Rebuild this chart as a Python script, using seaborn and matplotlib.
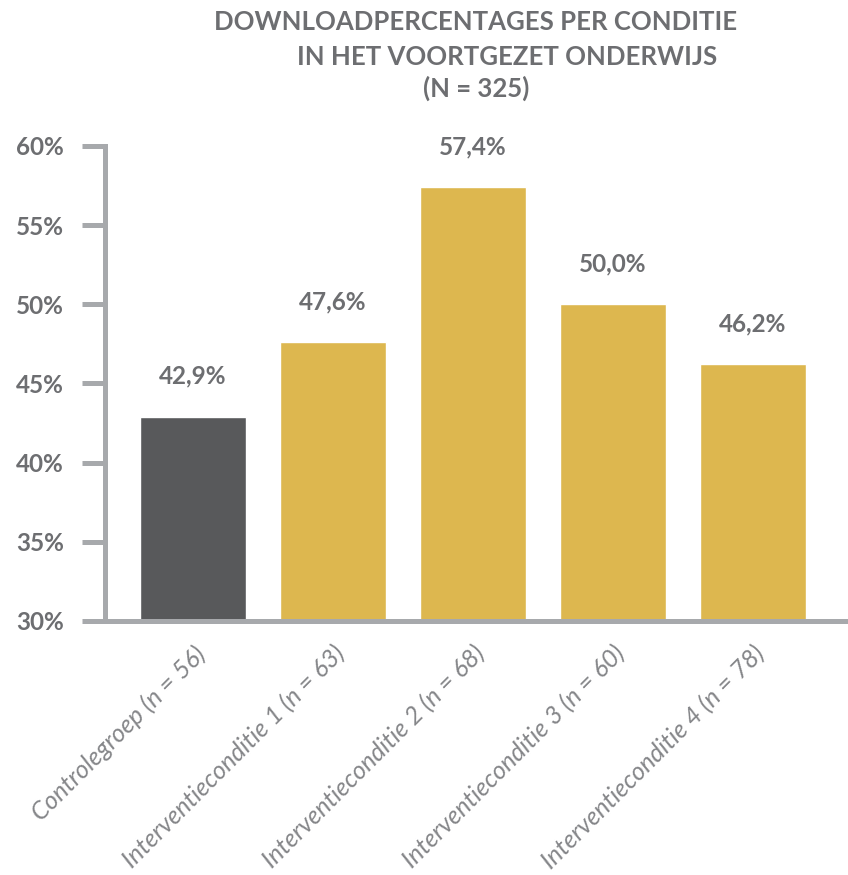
import matplotlib
matplotlib.use("Agg")
import matplotlib.pyplot as plt
import seaborn as sns
import pandas as pd

# data
conditions = [
    "Controlegroep (n = 56)",
    "Interventieconditie 1 (n = 63)",
    "Interventieconditie 2 (n = 68)",
    "Interventieconditie 3 (n = 60)",
    "Interventieconditie 4 (n = 78)",
]
percentages = [42.9, 47.6, 57.4, 50.0, 46.2]
yticks = [30, 35, 40, 45, 50, 55, 60]
title_lines = [
    "DOWNLOADPERCENTAGES PER CONDITIE",
    "IN HET VOORTGEZET ONDERWIJS",
    "(N = 325)",
]

dark = "#58595B"
gold = "#DDB74F"
text_grey = "#6D6E71"
axis_grey = "#A7A9AC"

sns.set_style("white")
plt.rcParams["font.family"] = ["Lato", "DejaVu Sans"]

df = pd.DataFrame({"Conditie": conditions, "Percentage": percentages})

fig = plt.figure(figsize=(8.48, 8.75), dpi=100)
ax = fig.add_axes([0.1238, 0.2903, 0.8762, 0.5429])

colors = [dark] + [gold] * (len(conditions) - 1)
sns.barplot(data=df, x="Conditie", y="Percentage", hue="Conditie",
            palette=colors, legend=False, width=0.76, ax=ax, saturation=1)

ax.set_ylim(30, 60)
ax.set_xlim(-0.63, 4.68)
ax.set_yticks(yticks)
ax.set_yticklabels([f"{v}%" for v in yticks], fontsize=17.5, fontweight="bold", color=text_grey)
ax.tick_params(axis="y", length=16.5, width=3.6, color=axis_grey, pad=13, left=True)
ax.tick_params(axis="x", length=0, pad=15)
ax.set_xticks(range(len(conditions)))
ax.set_xticklabels(conditions, rotation=45, ha="right", rotation_mode="anchor",
                   fontsize=18, fontstyle="italic", fontweight="normal", color="#858689")
ax.set_xlabel("")
ax.set_ylabel("")

for side in ["top", "right"]:
    ax.spines[side].set_visible(False)
for side in ["left", "bottom"]:
    ax.spines[side].set_color(axis_grey)
    ax.spines[side].set_linewidth(3.6)

labels = [f"{v:.1f}".replace(".", ",") + "%" for v in percentages]
for container in ax.containers:
    ax.bar_label(container, labels=[labels[int(round(b.get_x() + b.get_width() / 2))] for b in container],
                 padding=21, fontsize=17.5, fontweight="bold", color=text_grey)

# title, three centred lines
fig.text(0.561, 0.975, title_lines[0], ha="center", va="center", fontsize=18.5, fontweight="bold", color=text_grey)
fig.text(0.598, 0.935, title_lines[1], ha="center", va="center", fontsize=18.5, fontweight="bold", color=text_grey)
fig.text(0.561, 0.899, title_lines[2], ha="center", va="center", fontsize=18.5, fontweight="bold", color=text_grey)

plt.savefig("out.png", dpi=100)
